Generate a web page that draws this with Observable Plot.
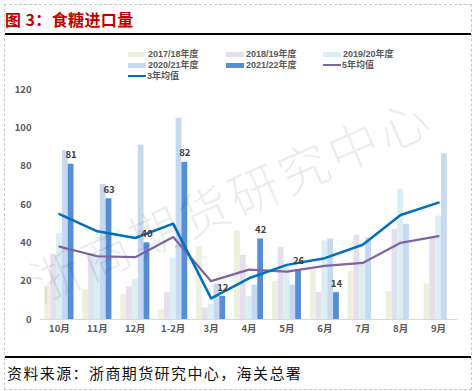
<!DOCTYPE html>
<html><head><meta charset="utf-8">
<script src="https://cdn.jsdelivr.net/npm/d3@7"></script>
<script src="https://cdn.jsdelivr.net/npm/@observablehq/plot@0.6"></script>
<style>
body{margin:0;background:#fff;}
#wrap{position:relative;width:475px;height:391px;overflow:hidden;font-family:"Noto Sans CJK SC","Noto Sans",sans-serif;background:#fff;}
.abs{position:absolute;}
#border{left:4px;top:4px;width:466px;height:384px;border:1px dashed #c8c8c8;}
#title{left:5px;top:9px;font-size:16px;line-height:20px;font-weight:bold;color:#c00000;letter-spacing:0.4px;white-space:nowrap;}
.hline{left:5px;width:466px;height:1.6px;background:#000;}
#chart{left:0;top:82px;}
.lg{font-family:"Liberation Sans","Noto Sans CJK SC",sans-serif;font-size:9px;line-height:10px;height:10px;color:#595959;font-weight:bold;white-space:nowrap;display:flex;align-items:center;}
.sw{display:inline-block;width:18px;height:5px;margin-right:2px;}
.ln{display:inline-block;width:18px;height:2.5px;margin-right:1px;}
#foot{left:7px;top:363px;font-size:15px;line-height:20px;color:#111;letter-spacing:1.4px;white-space:nowrap;}
#wm{left:230px;top:197px;transform:translate(-50%,-50%) rotate(-23.5deg);font-size:50px;letter-spacing:4px;color:rgba(0,0,0,0.075);font-weight:300;white-space:nowrap;pointer-events:none;}
</style></head><body>
<div id="wrap">
  <div id="border" class="abs"></div>
  <div id="title" class="abs">图 3：食糖进口量</div>
  <div class="abs hline" style="top:33px"></div>
  <div id="legend"></div>
  <div id="chart" class="abs"></div>
  <div id="wm" class="abs">浙商期货研究中心</div>
  <div class="abs hline" style="top:356px"></div>
  <div id="foot" class="abs">资料来源：浙商期货研究中心，海关总署</div>
</div>
<script>
const months = ["10月","11月","12月","1-2月","3月","4月","5月","6月","7月","8月","9月"];
const seasons = ["2017/18年度","2018/19年度","2019/20年度","2020/21年度","2021/22年度"];
const s1718 = [17, 15.5, 13, 5, 38, 46, 20, 26, 25, 14.5, 18.5];
const s1819 = [34, 34, 17, 14, 6, 33.5, 37.5, 14, 44, 47, 43];
const s1920 = [45, 34, 21, 32, 8, 12, 28, 41, 29, 68, 54];
const s2021 = [88, 70.5, 91, 105, 18.5, 18, 18, 42, 42.5, 49.5, 86.5];
const s2122 = [81, 63, 40, 82, 12, 42, 26, 14, null, null, null];
const avg3 = [55, 46, 42.5, 50, 11, 21.5, 28.5, 32, 39, 54.5, 61];
const avg5 = [38, 33, 32.5, 43, 20, 26, 25, 28, 29.5, 40, 43.5];
const yTicks = [0, 20, 40, 60, 80, 100, 120];
const lineNames = ["3年均值", "5年均值"];

const barColors = ["#ebf1de", "#e4dfec", "#daeef3", "#c6d9f1", "#558ed5"];
const lineColors = ["#0070c0", "#8064a2"];

const W = 475, H = 257, mL = 40, mR = 18, mT = 7, mB = 20;
const step = (W - mL - mR) / months.length;
const groupPad = 4.5, barW = 5.8;

const series = [s1718, s1819, s1920, s2021, s2122];
const rows = series.map((vals, i) =>
  months.map((m, j) => ({month: m, season: seasons[i], value: vals[j]})).filter(d => d.value != null));
const line3 = months.map((m, j) => ({month: m, v: avg3[j]}));
const line5 = months.map((m, j) => ({month: m, v: avg5[j]}));

const marks = [];
rows.forEach((r, i) => {
  marks.push(Plot.barY(r, {
    x: "month", y: "value", fill: barColors[i],
    insetLeft: groupPad + i * barW,
    insetRight: step - groupPad - (i + 1) * barW
  }));
});
marks.push(Plot.ruleY([0], {stroke: "#d9d9d9", strokeWidth: 1}));
marks.push(Plot.line(line5, {x: "month", y: "v", stroke: lineColors[1], strokeWidth: 2.2, strokeLinejoin: "round"}));
marks.push(Plot.line(line3, {x: "month", y: "v", stroke: lineColors[0], strokeWidth: 2.5, strokeLinejoin: "round"}));
marks.push(Plot.text(rows[4], {
  x: "month", y: "value", text: d => String(d.value),
  dx: groupPad + 4.5 * barW - step / 2, dy: -9,
  fill: "#404040", fontSize: 9.5, fontWeight: "bold"
}));

const chart = Plot.plot({
  width: W, height: H,
  marginLeft: mL, marginRight: mR, marginTop: mT, marginBottom: mB,
  style: {fontFamily: '"Noto Sans CJK SC", sans-serif', fontSize: "9.5px", fontWeight: "bold", color: "#595959", background: "transparent", overflow: "visible"},
  x: {type: "band", domain: months, padding: 0, round: false, tickSize: 0, tickPadding: 6, label: null},
  y: {domain: [0, 120], ticks: yTicks, tickSize: 0, tickPadding: 9, label: null},
  marks
});
document.getElementById("chart").appendChild(chart);

// Legend
const legend = document.getElementById("legend");
const cols = [128, 226, 323];
const rowsY = [49, 60, 71];
const items = [
  {t: seasons[0], c: barColors[0], k: "bar"},
  {t: seasons[1], c: barColors[1], k: "bar"},
  {t: seasons[2], c: barColors[2], k: "bar"},
  {t: seasons[3], c: barColors[3], k: "bar"},
  {t: seasons[4], c: barColors[4], k: "bar"},
  {t: lineNames[1], c: lineColors[1], k: "line"},
  {t: lineNames[0], c: lineColors[0], k: "line"}
];
items.forEach((it, i) => {
  const d = document.createElement("div");
  d.className = "abs lg";
  d.style.left = cols[i % 3] + "px";
  d.style.top = rowsY[Math.floor(i / 3)] + "px";
  const s = document.createElement("span");
  s.className = it.k === "bar" ? "sw" : "ln";
  s.style.background = it.c;
  d.appendChild(s);
  d.appendChild(document.createTextNode(it.t));
  legend.appendChild(d);
});
</script>
</body></html>
